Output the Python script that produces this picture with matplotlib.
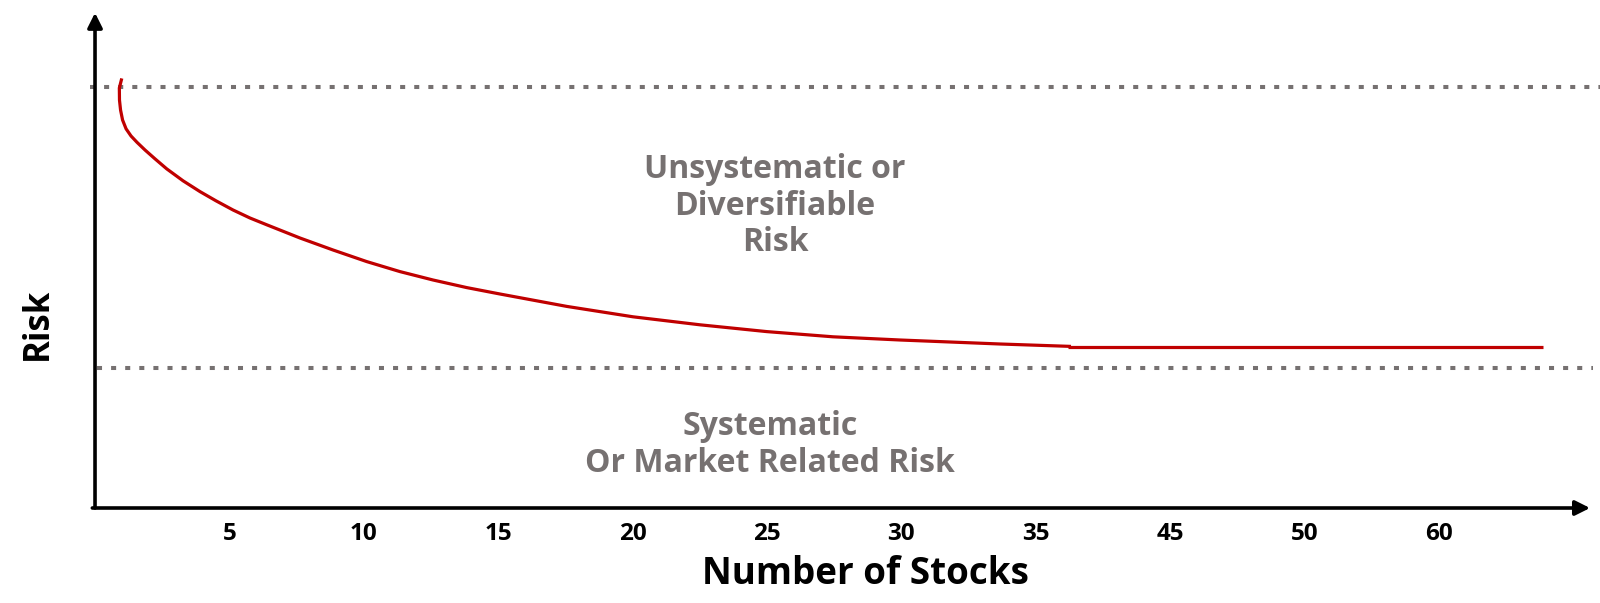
import numpy as np
import matplotlib.pyplot as plt

# x axis: evenly spaced slots, labelled with stock counts
tick_labels = ['5', '10', '15', '20', '25', '30', '35', '45', '50', '60']
tick_pos = np.arange(1, 11)

# total risk curve
curve_x = [0.199, 0.181, 0.182, 0.190, 0.205, 0.231, 0.268, 0.313, 0.372, 0.446,
           0.533, 0.655, 0.781, 0.900, 1.027, 1.153, 1.278, 1.525, 1.771, 2.022,
           2.269, 2.515, 2.766, 3.013, 3.510, 4.003, 4.501, 4.998, 5.491, 5.990,
           6.734, 7.262]
curve_y = [10.74, 10.50, 10.20, 9.95, 9.70, 9.48, 9.30, 9.14, 8.95, 8.73,
           8.48, 8.18, 7.91, 7.68, 7.45, 7.25, 7.08, 6.75, 6.45, 6.16,
           5.91, 5.70, 5.51, 5.35, 5.04, 4.78, 4.58, 4.41, 4.28, 4.20,
           4.10, 4.04]
flat_x = [7.24, 10.774]
flat_y = [4.02, 4.02]

total_level = 10.53     # upper dotted line
market_level = 3.5      # lower dotted line

red = '#C00000'
grey = '#767171'
font = 'Open Sans'

fig = plt.figure(figsize=(16, 6.03), dpi=100)
ax = fig.add_axes([0, 0, 1, 1])
ax.set_xlim(-0.707, 11.198)
ax.set_ylim(-2.375, 12.7)

# dotted reference levels
dots = (0, (1.25, 2.25))
ax.hlines(total_level, -0.037, 11.198, colors=grey, lw=2.9, linestyles=dots)
ax.hlines(market_level, 0.015, 11.146, colors=grey, lw=2.9, linestyles=dots)

# risk curve
ax.plot(curve_x, curve_y, color=red, lw=2.3, solid_capstyle='butt', solid_joinstyle='round')
ax.plot(flat_x, flat_y, color=red, lw=2.3, solid_capstyle='butt')

# axes with arrow heads
arrow = dict(arrowstyle='-|>', lw=2.6, color='black', mutation_scale=22,
             shrinkA=0, shrinkB=0)
ax.annotate('', xy=(0, 12.38), xytext=(0, 0), arrowprops=arrow)
ax.annotate('', xy=(11.124, 0), xytext=(-0.02, 0), arrowprops=arrow)

for s in ax.spines.values():
    s.set_visible(False)
ax.spines['bottom'].set_position(('data', 0))
ax.set_yticks([])
ax.set_xticks(tick_pos, tick_labels)
ax.tick_params(axis='x', length=0, pad=10)
for t in ax.get_xticklabels():
    t.set_fontfamily(font)
    t.set_fontweight('bold')
    t.set_fontsize(17.5)

ax.set_xlabel('Number of Stocks', fontfamily=font, fontweight='bold', fontsize=26.5)
ax.xaxis.set_label_coords(0.541, 1 - 574 / 603)
ax.xaxis.label.set_va('center')
ax.set_ylabel('Risk', fontfamily=font, fontweight='bold', fontsize=25)
ax.yaxis.set_label_coords(38 / 1600, 1 - 324 / 603)
ax.yaxis.label.set_va('center')

ax.text(5.06, 7.54, 'Unsystematic or\nDiversifiable\nRisk', ha='center', va='center',
        color=grey, fontfamily=font, fontweight='bold', fontsize=23, linespacing=1.14)
ax.text(5.02, 1.58, 'Systematic\nOr Market Related Risk', ha='center', va='center',
        color=grey, fontfamily=font, fontweight='bold', fontsize=23, linespacing=1.14)

fig.savefig('out.png', dpi=100)
